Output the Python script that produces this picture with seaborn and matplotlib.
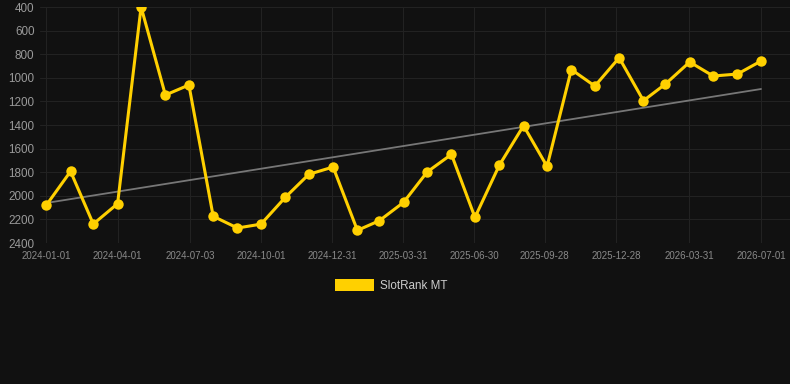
import numpy as np
import pandas as pd
import matplotlib
matplotlib.use("Agg")
import matplotlib.pyplot as plt
import matplotlib.dates as mdates
from matplotlib.patches import Patch
import seaborn as sns

# monthly rank readings, 2024-01 .. 2026-07
dates = pd.date_range("2024-01-01", "2026-07-01", freq="MS")
ranks = [2080, 1793, 2239, 2067, 400, 1146, 1061, 2174, 2273, 2240,
         2013, 1818, 1756, 2293, 2211, 2055, 1798, 1649, 2183, 1742,
         1406, 1751, 930, 1070, 830, 1194, 1053, 866, 985, 968, 858]
tick_labels = ["2024-01-01", "2024-04-01", "2024-07-03", "2024-10-01",
               "2024-12-31", "2025-03-31", "2025-06-30", "2025-09-28",
               "2025-12-28", "2026-03-31", "2026-07-01"]
y_ticks = [400, 600, 800, 1000, 1200, 1400, 1600, 1800, 2000, 2200, 2400]
series_name = "SlotRank MT"

df = pd.DataFrame({"date": dates, "rank": ranks})

# linear trend over the series
xnum = mdates.date2num(df["date"])
slope, icpt = np.polyfit(xnum, df["rank"], 1)
df["trend"] = slope * xnum + icpt

sns.set_theme(style="dark")
plt.rcParams["font.family"] = ["Liberation Sans", "DejaVu Sans"]

bg = "#111111"
gold = "#FFD000"

fig = plt.figure(figsize=(7.9, 3.84), dpi=100, facecolor=bg)
ax = fig.add_axes([40 / 790, 1 - 243 / 384, 750 / 790, 236 / 384])
ax.set_facecolor(bg)

sns.lineplot(data=df, x="date", y="trend", ax=ax, color="#777777",
             linewidth=1.3, legend=False)
sns.lineplot(data=df, x="date", y="rank", ax=ax, color=gold, linewidth=2.2,
             marker="o", markersize=7.5, markeredgewidth=0, legend=False)

ax.set_ylim(2400, 400)
ax.set_yticks(y_ticks)
ax.set_xlim(pd.Timestamp("2023-12-24"), pd.Timestamp("2026-08-07"))
ax.set_xticks(pd.to_datetime(tick_labels))
ax.set_xticklabels(tick_labels)
ax.tick_params(axis="y", colors="#9a9a9a", labelsize=8.4, length=0, pad=4)
ax.tick_params(axis="x", colors="#8a8a8a", labelsize=7.0, length=0, pad=6)
ax.grid(True, color="#222222", linewidth=0.8)
ax.set_xlabel("")
ax.set_ylabel("")
for s in ax.spines.values():
    s.set_visible(False)

handle = Patch(facecolor=gold, edgecolor="none", label=series_name)
leg = ax.legend(handles=[handle], loc="upper center", bbox_to_anchor=(0.468, -0.107),
                frameon=False, fontsize=8.4, handlelength=3.4, handleheight=1.3,
                handletextpad=0.5)
for t in leg.get_texts():
    t.set_color("#cccccc")

fig.savefig("out.png", dpi=100, facecolor=bg)
